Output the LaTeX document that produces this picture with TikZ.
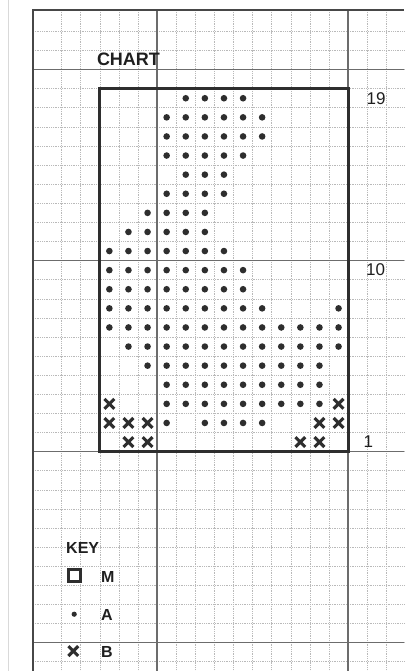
\documentclass[tikz,border=0pt]{standalone}
\usepackage{fontspec}
\setmainfont{Liberation Sans}
\begin{document}
\begin{tikzpicture}[x=1pt,y=-1pt,
  minor/.style={gray!55, line width=0.6pt, dash pattern=on 0.9pt off 0.9pt},
  major/.style={gray!85!black, line width=1.3pt},
  framerule/.style={black!72, line width=2.8pt, line join=miter},
  chartbox/.style={black!82, line width=3pt, line join=miter},
  dotmark/.style={fill=black!82},
  lbl/.style={inner sep=0pt, anchor=west, text=black!88},
  xmark/.pic={\draw[black!82, line width=3.1pt] (-4.9pt,-4.9pt) -- (4.9pt,4.9pt) (-4.9pt,4.9pt) -- (4.9pt,-4.9pt);}
]
\useasboundingbox (0,0) rectangle (404,671);
\fill[white] (0,0) rectangle (404,671);
% page edge
\draw[gray!30, line width=0.8pt] (8.3,0) -- (8.3,671);
% minor grid
\foreach \k in {-2,...,15} \draw[minor] ({99.8+19.1*\k},10) -- ({99.8+19.1*\k},671);
\foreach \k in {-22,...,11} \draw[minor] (33,{451.6+19.1*\k}) -- (404,{451.6+19.1*\k});
% major grid
\foreach \k in {3,13} \draw[major] ({99.8+19.1*\k},10) -- ({99.8+19.1*\k},671);
\foreach \k in {-20,-10,0,10} \draw[major] (33,{451.6+19.1*\k}) -- (404,{451.6+19.1*\k});
% outer frame
\draw[framerule] (33,671) -- (33,10) -- (404,10);
% chart box
\coordinate (chartSW) at (99.8,451.6);
\coordinate (chartNE) at (348.1,88.7);
\draw[chartbox] (chartSW) rectangle (chartNE);
% dots
\foreach \r/\cols in {19/{4,5,6,7}, 18/{3,4,5,6,7,8}, 17/{3,4,5,6,7,8}, 16/{3,4,5,6,7},
  15/{4,5,6}, 14/{3,4,5,6}, 13/{2,3,4,5}, 12/{1,2,3,4,5}, 11/{0,1,2,3,4,5,6},
  10/{0,1,2,3,4,5,6,7}, 9/{0,1,2,3,4,5,6,7}, 8/{0,1,2,3,4,5,6,7,8,12},
  7/{0,1,2,3,4,5,6,7,8,9,10,11,12}, 6/{1,2,3,4,5,6,7,8,9,10,11,12},
  5/{2,3,4,5,6,7,8,9,10,11}, 4/{3,4,5,6,7,8,9,10,11}, 3/{3,4,5,6,7,8,9,10,11},
  2/{3,5,6,7,8}}
  \foreach \c in \cols
    \fill[dotmark] ({99.8+19.1*(\c+0.5)},{451.6-19.1*(\r-0.5)}) circle (3.3);
% crosses
\foreach \r/\c in {3/0, 3/12, 2/0, 2/1, 2/2, 2/11, 2/12, 1/1, 1/2, 1/10, 1/11}
  \pic at ({99.8+19.1*(\c+0.5)},{451.6-19.1*(\r-0.5)}) {xmark};
% labels
\node[lbl, font=\fontsize{18}{18}\selectfont\bfseries] (chart) at (96.8,59.2) {CHART};
\node[lbl, font=\fontsize{17}{17}\selectfont] (n19) at (366.5,98.2) {19};
\node[lbl, font=\fontsize{17}{17}\selectfont] (n10) at (366,270) {10};
\node[lbl, font=\fontsize{17}{17}\selectfont] (n1) at (363.5,442) {1};
% key
\node[lbl, font=\fontsize{16}{16}\selectfont\bfseries] (key) at (66,547.5) {KEY};
\draw[black!82, line width=2.5pt] (68.5,569.5) rectangle (80.5,581.5);
\node[lbl, font=\fontsize{16}{16}\selectfont\bfseries] (keyM) at (101,577.2) {M};
\fill[dotmark] (74.2,614.2) circle (2.6);
\node[lbl, font=\fontsize{16}{16}\selectfont\bfseries] (keyA) at (101,615) {A};
\pic at (73.3,651) {xmark};
\node[lbl, font=\fontsize{16}{16}\selectfont\bfseries] (keyB) at (101,651.9) {B};
\end{tikzpicture}
\end{document}
